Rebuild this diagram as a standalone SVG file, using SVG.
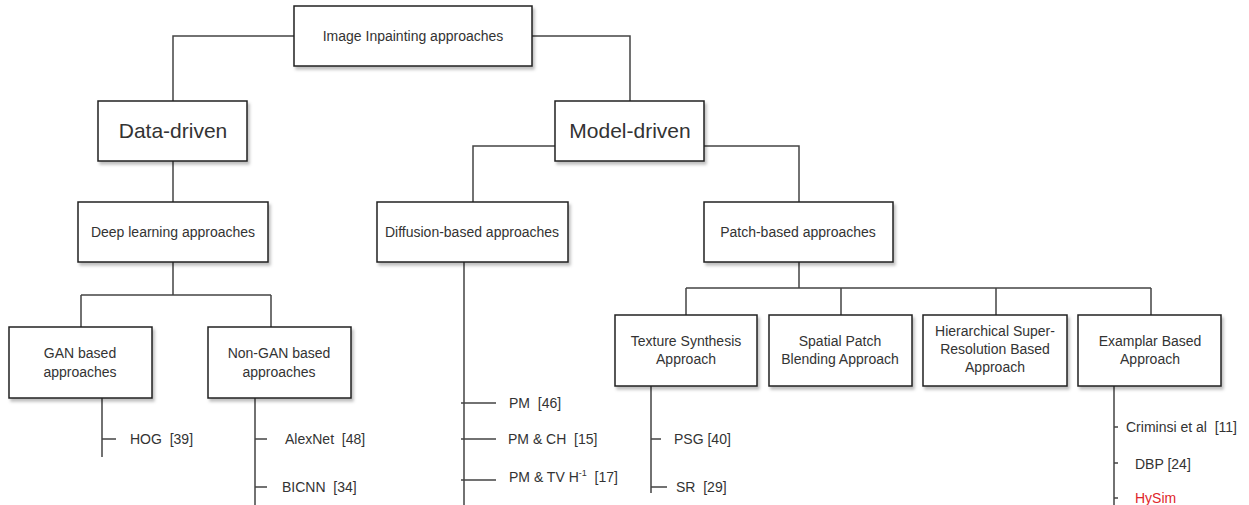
<svg xmlns="http://www.w3.org/2000/svg" width="1249" height="505" viewBox="0 0 1249 505">
<style>
.box{fill:#fff;stroke:#222;stroke-width:1.5;filter:url(#sh)}
.t{font-family:"Liberation Sans",Arial,sans-serif;font-size:14px;fill:#333;text-anchor:middle}
.big{font-size:21px}
.lf{font-family:"Liberation Sans",Arial,sans-serif;font-size:14px;fill:#333}
.c{fill:none;stroke:#444;stroke-width:1.5}
</style>
<defs>
<filter id="sh" x="-10%" y="-10%" width="130%" height="140%">
<feDropShadow dx="2" dy="3" stdDeviation="1.5" flood-color="#000" flood-opacity="0.25"/>
</filter>
</defs>
<rect width="1249" height="505" fill="#fff"/>
<g id="connectors">
<path class="c" d="M294 36H173V101"/>
<path class="c" d="M532 36H630V101"/>
<path class="c" d="M173 161V202"/>
<path class="c" d="M555 146H473V202"/>
<path class="c" d="M704 146H799V202"/>
<path class="c" d="M173 262V295M81 295H271M81 295V327M271 295V327"/>
<path class="c" d="M799 262V288M686 288H1151M686 288V315M841 288V315M996 288V315M1151 288V315"/>
<path class="c" d="M102 398V457M102 439H116"/>
<path class="c" d="M255 398V505M255 439H267M255 487H267"/>
<path class="c" d="M464 262V505M461 403H496M461 439H496M461 480H496"/>
<path class="c" d="M651 386V493M651 439H661M651 487H667"/>
<path class="c" d="M1114 386V505M1114 427H1118M1114 463H1118M1114 498H1118"/>
</g>
<g id="root"><rect class="box" x="294" y="6" width="238" height="60"/><text class="t" x="413" y="41">Image Inpainting approaches</text></g>
<g id="data-driven"><rect class="box" x="98" y="101" width="149" height="60"/><text class="t big" x="173" y="138">Data-driven</text></g>
<g id="model-driven"><rect class="box" x="555" y="101" width="149" height="60"/><text class="t big" x="630" y="138">Model-driven</text></g>
<g id="deep-learning"><rect class="box" x="78" y="202" width="190" height="60"/><text class="t" x="173" y="237">Deep learning approaches</text></g>
<g id="diffusion"><rect class="box" x="377" y="202" width="191" height="60"/><text class="t" x="472" y="237">Diffusion-based approaches</text></g>
<g id="patch"><rect class="box" x="704" y="202" width="189" height="60"/><text class="t" x="798" y="237">Patch-based approaches</text></g>
<g id="gan"><rect class="box" x="9" y="327" width="143" height="71"/><text class="t" x="80" y="358">GAN based</text><text class="t" x="80" y="377">approaches</text></g>
<g id="non-gan"><rect class="box" x="208" y="327" width="143" height="71"/><text class="t" x="279" y="358">Non-GAN based</text><text class="t" x="279" y="377">approaches</text></g>
<g id="texture"><rect class="box" x="615" y="315" width="142" height="71"/><text class="t" x="686" y="346">Texture Synthesis</text><text class="t" x="686" y="364">Approach</text></g>
<g id="spatial"><rect class="box" x="769" y="315" width="143" height="71"/><text class="t" x="840" y="346">Spatial Patch</text><text class="t" x="840" y="364">Blending Approach</text></g>
<g id="hierarchical"><rect class="box" x="923" y="315" width="144" height="71"/><text class="t" x="995" y="336">Hierarchical Super-</text><text class="t" x="995" y="354">Resolution Based</text><text class="t" x="995" y="372">Approach</text></g>
<g id="examplar"><rect class="box" x="1078" y="315" width="143" height="71"/><text class="t" x="1150" y="346">Examplar Based</text><text class="t" x="1150" y="364">Approach</text></g>
<g id="leaves">
<text class="lf" x="130" y="444" xml:space="preserve">HOG  [39]</text>
<text class="lf" x="285" y="444" xml:space="preserve">AlexNet  [48]</text>
<text class="lf" x="282" y="492" xml:space="preserve">BICNN  [34]</text>
<text class="lf" x="509" y="408" xml:space="preserve">PM  [46]</text>
<text class="lf" x="508" y="444" xml:space="preserve">PM &amp; CH  [15]</text>
<text class="lf" x="509" y="482" xml:space="preserve">PM &amp; TV H<tspan font-size="9" dy="-6">-1</tspan><tspan dy="6">  [17]</tspan></text>
<text class="lf" x="674" y="444">PSG [40]</text>
<text class="lf" x="676" y="492" xml:space="preserve">SR  [29]</text>
<text class="lf" x="1126" y="432" xml:space="preserve">Criminsi et al  [11]</text>
<text class="lf" x="1135" y="469">DBP [24]</text>
<text class="lf" x="1135" y="503" style="fill:#e0262b">HySim</text>
</g>
</svg>
